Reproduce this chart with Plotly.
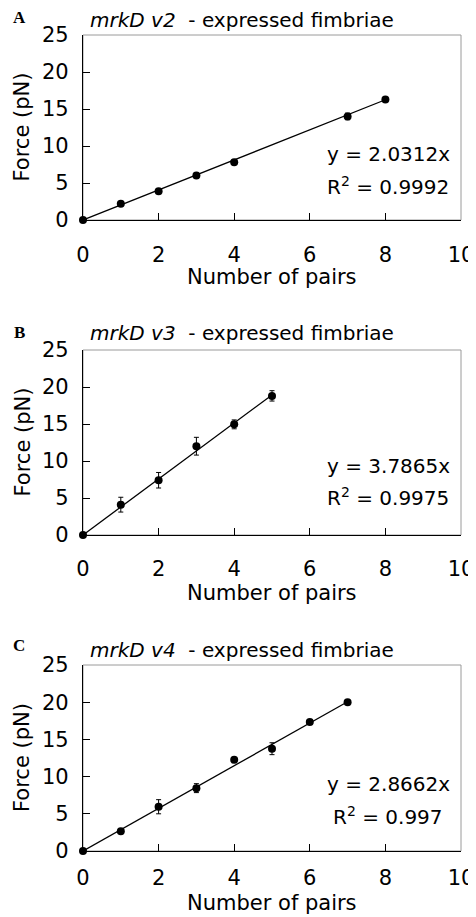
import plotly.graph_objects as go

# window is 476x917; page body has an 8px margin, so the figure is slightly smaller
W, H = 476, 917
OFF = 8
FW, FH = W - OFF, H - OFF

# ---- data ----
a_pairs = [0, 1, 2, 3, 4, 7, 8]
a_force = [0, 2.2, 3.9, 6.0, 7.8, 14.0, 16.3]
a_err = [0, 0.2, 0.2, 0.35, 0.3, 0.45, 0.2]
a_slope = 2.0312
a_r2 = "0.9992"

b_pairs = [0, 1, 2, 3, 4, 5]
b_force = [0, 4.1, 7.4, 12.0, 14.95, 18.8]
b_err = [0, 1.0, 1.05, 1.2, 0.6, 0.7]
b_slope = 3.7865
b_r2 = "0.9975"

c_pairs = [0, 1, 2, 3, 4, 5, 6, 7]
c_force = [0, 2.65, 5.95, 8.45, 12.25, 13.75, 17.35, 20.0]
c_err = [0, 0.2, 0.95, 0.6, 0.2, 0.8, 0.2, 0.2]
c_slope = 2.8662
c_r2 = "0.997"

x_ticks = [0, 2, 4, 6, 8, 10]
y_ticks = [0, 5, 10, 15, 20, 25]

panels = [
    dict(letter="A", gene="mrkD v2", x=a_pairs, y=a_force, e=a_err, k=a_slope, r2=a_r2,
         top=35, bottom=220, title_y=20, letter_y=18, eq_y=154, r2_y=186, xt_y=277, stand=16),
    dict(letter="B", gene="mrkD v3", x=b_pairs, y=b_force, e=b_err, k=b_slope, r2=b_r2,
         top=350, bottom=535, title_y=333, letter_y=332, eq_y=466, r2_y=497, xt_y=593, stand=15),
    dict(letter="C", gene="mrkD v4", x=c_pairs, y=c_force, e=c_err, k=c_slope, r2=c_r2,
         top=665, bottom=851, title_y=650, letter_y=645, eq_y=784, r2_y=816, xt_y=903, stand=8),
]

LEFT, RIGHT = 83, 461
FONT = "DejaVu Sans"

def px(x):
    return (x - OFF) / FW

def py(y):
    return 1 - (y - OFF) / FH

fig = go.Figure()
annotations = []
shapes = []

for i, p in enumerate(panels):
    n = "" if i == 0 else str(i + 1)
    xa, ya = "x" + n, "y" + n
    xmax = max(p["x"])
    fig.add_trace(go.Scatter(x=[0, xmax], y=[0, p["k"] * xmax], mode="lines",
                             line=dict(color="black", width=1.3),
                             xaxis=xa, yaxis=ya, showlegend=False, hoverinfo="skip",
                             cliponaxis=False))
    fig.add_trace(go.Scatter(x=p["x"], y=p["y"], mode="markers",
                             marker=dict(color="black", size=8),
                             error_y=dict(type="data", array=p["e"], visible=True,
                                          color="black", thickness=1, width=2.5),
                             xaxis=xa, yaxis=ya, showlegend=False, cliponaxis=False))
    dom_y = [py(p["bottom"]), py(p["top"])]
    axis_common = dict(showgrid=False, zeroline=False, showline=True, linecolor="black",
                       linewidth=1.2, ticks="inside", ticklen=7, tickcolor="black",
                       tickwidth=1.2, automargin=False,
                       tickfont=dict(family=FONT, size=21, color="black"))
    fig.layout["xaxis" + n] = dict(domain=[px(LEFT), px(RIGHT)], range=[0, 10],
                                   tickvals=x_ticks, anchor=ya, ticklabelstandoff=p["stand"],
                                   **axis_common)
    fig.layout["yaxis" + n] = dict(domain=dom_y, range=[0, 25], tickvals=y_ticks,
                                   anchor=xa, ticklabelstandoff=9, **axis_common)
    shapes.append(dict(type="rect", xref="paper", yref="paper",
                       x0=px(LEFT), x1=px(RIGHT), y0=dom_y[0], y1=dom_y[1],
                       line=dict(color="#9a9a9a", width=1), layer="below"))
    annotations.append(dict(text="<b>%s</b>" % p["letter"], x=px(19), y=py(p["letter_y"]),
                            xref="paper", yref="paper", showarrow=False,
                            xanchor="center", yanchor="middle",
                            font=dict(family="Liberation Serif", size=17, color="black")))
    annotations.append(dict(text="<i>%s</i>  - expressed fimbriae" % p["gene"],
                            x=px(88), y=py(p["title_y"]), xref="paper", yref="paper",
                            showarrow=False, xanchor="left", yanchor="middle",
                            font=dict(family=FONT, size=20, color="black")))
    annotations.append(dict(text="y = %.4fx" % p["k"], x=px(388), y=py(p["eq_y"]),
                            xref="paper", yref="paper", showarrow=False,
                            xanchor="center", yanchor="middle",
                            font=dict(family=FONT, size=20, color="black")))
    annotations.append(dict(text="R<sup>2</sup> = %s" % p["r2"], x=px(388), y=py(p["r2_y"]),
                            xref="paper", yref="paper", showarrow=False,
                            xanchor="center", yanchor="middle",
                            font=dict(family=FONT, size=20, color="black")))
    annotations.append(dict(text="Number of pairs", x=px((LEFT + RIGHT) / 2), y=py(p["xt_y"]),
                            xref="paper", yref="paper", showarrow=False,
                            xanchor="center", yanchor="middle",
                            font=dict(family=FONT, size=21, color="black")))
    annotations.append(dict(text="Force (pN)", x=px(22), y=py((p["top"] + p["bottom"]) / 2),
                            xref="paper", yref="paper", showarrow=False, textangle=-90,
                            xanchor="center", yanchor="middle",
                            font=dict(family=FONT, size=21, color="black")))

fig.update_layout(width=FW, height=FH, margin=dict(l=0, r=0, t=0, b=0, autoexpand=False),
                  paper_bgcolor="white", plot_bgcolor="white",
                  annotations=annotations, shapes=shapes, showlegend=False)

fig.write_html("out.html")
